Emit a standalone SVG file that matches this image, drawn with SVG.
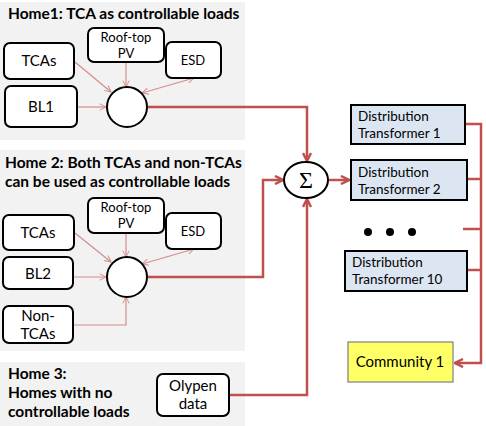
<svg xmlns="http://www.w3.org/2000/svg" width="486" height="426" viewBox="0 0 486 426">
<defs>
<style>
.panel{fill:#f2f2f2}
.title{font-family:Lato,"Open Sans","Liberation Sans",sans-serif;font-weight:bold;font-size:15.5px;fill:#000}
.box{fill:#fff;stroke:#000;stroke-width:2}
.lbl{font-family:Lato,"Open Sans","Liberation Sans",sans-serif;font-size:15px;fill:#000;text-anchor:middle}
.lbl2{font-family:Lato,"Open Sans","Liberation Sans",sans-serif;font-size:13px;fill:#000;text-anchor:middle}
.dt{fill:#dce6f2;stroke:#000;stroke-width:2}
.dtl{font-family:Lato,"Open Sans","Liberation Sans",sans-serif;font-size:13.5px;fill:#000}
.thin{fill:none;stroke:#d38c8c;stroke-width:1.2}
.thick{fill:none;stroke:#c0504d;stroke-width:2.5}
</style>
<marker id="ta" viewBox="0 0 10 10" refX="9" refY="5" markerWidth="8" markerHeight="8" orient="auto-start-reverse" markerUnits="userSpaceOnUse">
<path d="M1,1 L9,5 L1,9" fill="none" stroke="#d38c8c" stroke-width="1.2"/>
</marker>
<marker id="ka" viewBox="0 0 10 10" refX="9" refY="5" markerWidth="10" markerHeight="10" orient="auto" markerUnits="userSpaceOnUse">
<path d="M1,1 L9,5 L1,9" fill="none" stroke="#c0504d" stroke-width="2.5"/>
</marker>
</defs>

<g id="panels">
<rect class="panel" x="0" y="2" width="245" height="138"/>
<rect class="panel" x="0" y="150" width="245" height="201"/>
<rect class="panel" x="0" y="362" width="245" height="64"/>
</g>

<g id="titles">
<text class="title" x="8" y="19">Home1: TCA as controllable loads</text>
<text class="title" x="5" y="168">Home 2: Both TCAs and non-TCAs</text>
<text class="title" x="5" y="187">can be used as controllable loads</text>
<text class="title" x="8" y="379">Home 3:</text>
<text class="title" x="8" y="398">Homes with no</text>
<text class="title" x="8" y="417">controllable loads</text>
</g>

<g id="connectors">
<line class="thin" x1="75" y1="62" x2="111" y2="92" marker-end="url(#ta)"/>
<line class="thin" x1="126" y1="62" x2="126" y2="87" marker-end="url(#ta)"/>
<line class="thin" x1="194" y1="78" x2="142" y2="93" marker-start="url(#ta)" marker-end="url(#ta)"/>
<line class="thin" x1="77" y1="107" x2="106" y2="107" marker-end="url(#ta)"/>
<line class="thin" x1="75" y1="233" x2="111" y2="262" marker-end="url(#ta)"/>
<line class="thin" x1="126" y1="233" x2="126" y2="257" marker-end="url(#ta)"/>
<line class="thin" x1="194" y1="249" x2="142" y2="264" marker-start="url(#ta)" marker-end="url(#ta)"/>
<line class="thin" x1="73" y1="277" x2="106" y2="277" marker-end="url(#ta)"/>
<polyline class="thin" points="73,325 126,325 126,297" marker-end="url(#ta)"/>
<polyline class="thick" points="147,107 307,107 307,161" marker-end="url(#ka)"/>
<polyline class="thick" points="147,277 263,277 263,180 283,180" marker-end="url(#ka)"/>
<polyline class="thick" points="229,395 307,395 307,199" marker-end="url(#ka)"/>
<line class="thick" x1="329" y1="180" x2="349" y2="180" marker-end="url(#ka)"/>
<polyline class="thick" points="465,124 481,124 481,363 455,363" marker-end="url(#ka)"/>
<line class="thick" x1="467" y1="179" x2="481" y2="179"/>
<line class="thick" x1="463" y1="229" x2="481" y2="229"/>
<line class="thick" x1="467" y1="270" x2="481" y2="270"/>
</g>

<g id="h1-tcas"><rect class="box" x="4" y="43" width="70" height="36" rx="6"/><text class="lbl" x="39" y="66">TCAs</text></g>
<g id="h1-bl1"><rect class="box" x="5" y="86" width="72" height="41" rx="6"/><text class="lbl" x="41" y="112">BL1</text></g>
<g id="h1-pv"><rect class="box" x="88" y="28" width="76" height="34" rx="6"/><text class="lbl2" x="126" y="42">Roof-top</text><text class="lbl2" x="126" y="58">PV</text></g>
<g id="h1-esd"><rect class="box" x="166" y="42" width="55" height="36" rx="6"/><text class="lbl2" x="193" y="65">ESD</text></g>
<g id="h1-node"><circle cx="127" cy="107" r="20" fill="#fff" stroke="#000" stroke-width="2"/></g>

<g id="h2-tcas"><rect class="box" x="3" y="215" width="71" height="35" rx="6"/><text class="lbl" x="38" y="238">TCAs</text></g>
<g id="h2-bl2"><rect class="box" x="3" y="257" width="70" height="32" rx="6"/><text class="lbl" x="38" y="279">BL2</text></g>
<g id="h2-nontcas"><rect class="box" x="3" y="306" width="70" height="37" rx="6"/><text class="lbl" x="38" y="321">Non-</text><text class="lbl" x="38" y="339">TCAs</text></g>
<g id="h2-pv"><rect class="box" x="88" y="198" width="76" height="35" rx="6"/><text class="lbl2" x="126" y="212">Roof-top</text><text class="lbl2" x="126" y="228">PV</text></g>
<g id="h2-esd"><rect class="box" x="166" y="213" width="55" height="36" rx="6"/><text class="lbl2" x="193" y="236">ESD</text></g>
<g id="h2-node"><circle cx="127" cy="277" r="20" fill="#fff" stroke="#000" stroke-width="2"/></g>

<g id="h3-olypen"><rect class="box" x="157" y="374" width="72" height="42" rx="6"/><text class="lbl" x="193" y="391">Olypen</text><text class="lbl" x="193" y="409">data</text></g>

<g id="sum"><ellipse cx="306" cy="180" rx="22" ry="18" fill="#fff" stroke="#000" stroke-width="2"/><text x="306" y="188" font-family="'Liberation Serif','DejaVu Serif',serif" font-size="24" text-anchor="middle">Σ</text></g>

<g id="dt1"><rect class="dt" x="351" y="105" width="114" height="39"/><text class="dtl" x="358" y="121">Distribution</text><text class="dtl" x="358" y="138">Transformer  1</text></g>
<g id="dt2"><rect class="dt" x="351" y="160" width="116" height="40"/><text class="dtl" x="358" y="177">Distribution</text><text class="dtl" x="358" y="194">Transformer  2</text></g>
<g id="dots"><circle cx="368" cy="232" r="4"/><circle cx="390" cy="232" r="4"/><circle cx="412" cy="232" r="4"/></g>
<g id="dt10"><rect class="dt" x="345" y="251" width="122" height="40"/><text class="dtl" x="352" y="267">Distribution</text><text class="dtl" x="352" y="284">Transformer  10</text></g>
<g id="community"><rect x="348" y="342" width="105" height="40" fill="#ffff66" stroke="#7f7f7f" stroke-width="1.2"/><text class="lbl" x="400" y="367">Community 1</text></g>
</svg>
